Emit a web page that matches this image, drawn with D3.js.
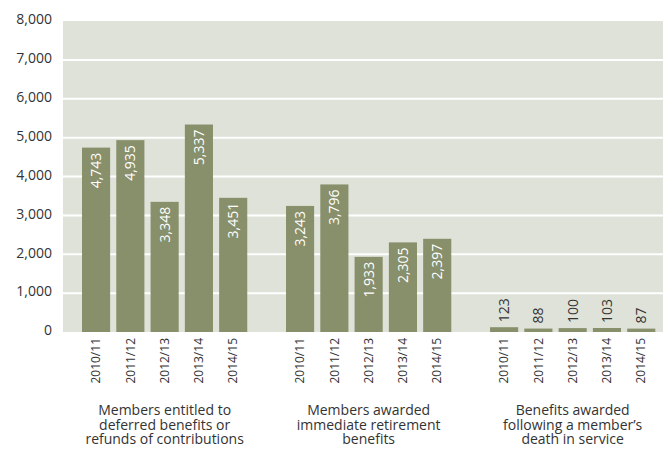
<!DOCTYPE html>
<html>
<head>
<meta charset="utf-8">
<script src="https://cdn.jsdelivr.net/npm/d3@7"></script>
<style>
  html, body { margin: 0; padding: 0; background: #ffffff; }
  svg { display: block; font-family: "Open Sans", "Noto Sans", sans-serif; }
</style>
</head>
<body>
<svg id="chart" width="663" height="449"></svg>
<script>
// Scheme member outcomes by year, three categories
const years = ["2010/11", "2011/12", "2012/13", "2013/14", "2014/15"];
const groups = [
  ["Members entitled to", "deferred benefits or", "refunds of contributions"],
  ["Members awarded", "immediate retirement", "benefits"],
  ["Benefits awarded", "following a member\u2019s", "death in service"]
];
const deferredValues   = [4743, 4935, 3348, 5337, 3451];
const retirementValues = [3243, 3796, 1933, 2305, 2397];
const deathValues      = [123, 88, 100, 103, 87];
const yTicks = [0, 1000, 2000, 3000, 4000, 5000, 6000, 7000, 8000];

const seriesByGroup = [deferredValues, retirementValues, deathValues];

const svg = d3.select("#chart");
const plot = { left: 63, right: 663, top: 21, bottom: 332 };
const barColor = "#878f6b";
const bgColor = "#dee2d8";
const textColor = "#333333";

const y = d3.scaleLinear().domain([0, 8000]).range([plot.bottom, plot.top]);

const xGroup = d3.scaleBand()
  .domain(d3.range(groups.length))
  .range([82, 655.3])
  .paddingInner(0.19)
  .paddingOuter(0);

const xYear = d3.scaleBand()
  .domain(years)
  .range([0, xGroup.bandwidth()])
  .paddingInner(0.18)
  .paddingOuter(0);

// plot background
svg.append("rect")
  .attr("x", plot.left).attr("y", plot.top)
  .attr("width", plot.right - plot.left)
  .attr("height", plot.bottom - plot.top)
  .attr("fill", bgColor);

// horizontal gridlines
svg.append("g")
  .selectAll("line")
  .data(yTicks.filter(d => d > 0 && d < 8000))
  .join("line")
  .attr("x1", plot.left).attr("x2", plot.right)
  .attr("y1", d => y(d)).attr("y2", d => y(d))
  .attr("stroke", "#ffffff")
  .attr("stroke-width", 2);

// y axis labels
const fmt = d3.format(",");
const yAxis = d3.axisLeft(y).tickValues(yTicks).tickFormat(fmt).tickSize(0).tickPadding(11);
const yG = svg.append("g").attr("transform", `translate(${plot.left},0)`).call(yAxis);
yG.select(".domain").remove();
yG.selectAll("text")
  .attr("fill", textColor)
  .attr("font-size", 14)
  .attr("font-family", "'Open Sans', 'Noto Sans', sans-serif")
  .attr("dy", "0.2em");

// bars, value labels and year labels per group
const rows = [];
seriesByGroup.forEach((vals, gi) => {
  vals.forEach((v, i) => rows.push({ g: gi, year: years[i], value: v }));
});
const cx = d => xGroup(d.g) + xYear(d.year);

svg.append("g")
  .selectAll("rect")
  .data(rows)
  .join("rect")
  .attr("x", d => cx(d))
  .attr("y", d => y(d.value))
  .attr("width", xYear.bandwidth())
  .attr("height", d => y(0) - y(d.value))
  .attr("fill", barColor);

// value labels: inside the bar when tall enough, otherwise above it
const isInside = d => (y(0) - y(d.value)) > 60;
svg.append("g")
  .selectAll("text")
  .data(rows)
  .join("text")
  .attr("transform", d => {
    const px = cx(d) + xYear.bandwidth() / 2;
    const py = isInside(d) ? y(d.value) + 5 : y(d.value) - 5;
    return `translate(${px},${py}) rotate(-90)`;
  })
  .attr("text-anchor", d => isInside(d) ? "end" : "start")
  .attr("dy", "0.35em")
  .attr("font-size", 14)
  .attr("fill", d => isInside(d) ? "#ffffff" : textColor)
  .text(d => fmt(d.value));

// year category labels
svg.append("g")
  .selectAll("text")
  .data(rows)
  .join("text")
  .attr("transform", d => `translate(${cx(d) + xYear.bandwidth() / 2},${plot.bottom + 6}) rotate(-90)`)
  .attr("text-anchor", "end")
  .attr("dy", "0.35em")
  .attr("font-size", 12)
  .attr("fill", textColor)
  .text(d => d.year);

// group titles, one text per line
const lineGap = 14.5;
svg.append("g")
  .selectAll("g")
  .data(groups)
  .join("g")
  .attr("transform", (d, i) => `translate(${xGroup(i) + xGroup.bandwidth() / 2},415)`)
  .selectAll("text")
  .data(d => d)
  .join("text")
  .attr("y", (d, i) => i * lineGap)
  .attr("text-anchor", "middle")
  .attr("font-size", 14)
  .attr("fill", textColor)
  .text(d => d);
</script>
</body>
</html>
